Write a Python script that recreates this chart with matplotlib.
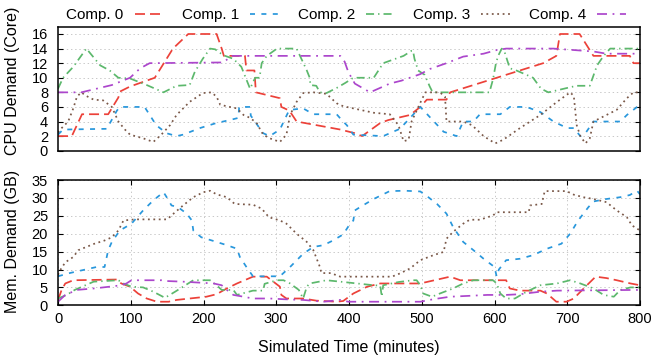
import matplotlib
matplotlib.use('Agg')
import matplotlib.pyplot as plt

plt.rcParams['font.family'] = ['Liberation Sans', 'DejaVu Sans']
plt.rcParams['lines.scale_dashes'] = False

# ---- CPU demand (cores) per component, (minute, value) ----
cpu0_t = [0, 3, 19, 33, 69, 83, 85, 99, 133, 158, 179, 218, 225, 228, 257, 259, 270, 272,
          305, 307, 318, 328, 388, 408, 418, 443, 454, 484, 498, 507, 534, 539, 667, 685,
          690, 717, 736, 786, 791, 800]
cpu0_v = [2, 2, 2, 5, 5, 7.3, 8.1, 8.8, 10, 14, 16, 16, 14, 13, 13, 11, 11, 8,
          7.2, 6, 5.5, 4, 2.9, 2.4, 2, 3.8, 4.2, 4.9, 6, 7, 7, 8, 12, 13,
          16, 16, 13, 13, 12, 12]

cpu1_t = [0, 7, 67, 81, 85, 119, 135, 149, 163, 172, 195, 218, 236, 248, 249, 264, 265,
          282, 291, 305, 317, 319, 337, 351, 383, 390, 397, 406, 447, 470, 498, 514, 530,
          548, 557, 571, 580, 608, 621, 644, 663, 681, 700, 709, 718, 725, 736, 773, 782,
          796, 800]
cpu1_v = [2.2, 2.9, 3, 5.5, 6, 6, 3.5, 2.4, 2, 2.2, 3.1, 3.8, 4.2, 4.5, 6, 6, 4.8,
          2.4, 2, 2.9, 5.4, 5.6, 5.8, 5, 5, 4.2, 3.5, 2.2, 2, 3, 6, 4.3, 2.6,
          2, 4, 4, 5, 5, 6, 6, 5.3, 4, 3.1, 3.1, 2, 2.4, 4, 4, 4.9,
          6, 6.2]

cpu2_t = [0, 7, 21, 39, 58, 71, 83, 99, 122, 145, 163, 181, 188, 199, 209, 216, 227, 241,
          252, 264, 271, 277, 280, 287, 301, 328, 342, 346, 347, 355, 360, 369, 383, 395,
          406, 434, 447, 475, 486, 488, 490, 495, 504, 511, 515, 593, 598, 602, 605, 610,
          614, 621, 630, 644, 653, 664, 674, 704, 713, 731, 741, 750, 759, 800]
cpu2_v = [8.5, 10, 11.5, 14, 11.7, 11, 10, 9.9, 9, 8, 8.9, 9, 10.8, 12.6, 14, 13.9, 13.1, 12.6,
          11.5, 8.5, 10, 10, 12, 13, 14, 14, 11, 10, 9, 8.9, 8, 7.9, 8.6, 9.3,
          10, 10, 12, 13, 13.7, 13.7, 12.6, 11, 10.4, 8.8, 8, 8, 9.8, 12, 13, 14,
          13.5, 11.3, 11, 10.4, 10, 8.5, 8, 8.7, 8.9, 8.9, 11.7, 13, 14, 14]

cpu3_t = [0, 5, 14, 21, 26, 32, 39, 49, 62, 74, 83, 92, 99, 117, 131, 142, 154, 163, 181,
          199, 211, 218, 223, 236, 246, 255, 264, 273, 282, 291, 305, 314, 319, 328, 337,
          351, 369, 383, 392, 406, 434, 456, 468, 475, 482, 486, 500, 505, 525, 532, 534,
          557, 569, 585, 601, 612, 635, 663, 686, 704, 709, 713, 718, 725, 731, 736, 750,
          768, 782, 791, 800]
cpu3_v = [2.5, 3.1, 4, 5.8, 7.4, 8, 7.5, 7, 6.9, 6, 4, 2.9, 2.2, 1.7, 1.2, 2.2, 3.5, 4.9, 6.7,
          7.9, 8, 7.4, 6.3, 6, 5.8, 4.9, 4.5, 3.8, 2.2, 1.7, 1.2, 2.2, 4.9, 6.7, 7.9,
          8, 7.8, 6.5, 6.1, 5.8, 5.2, 5, 3.5, 1.3, 1.5, 4, 7, 8, 8, 7.4, 4,
          4, 3.5, 2, 1, 1.5, 3.1, 4.9, 6.7, 8, 7.5, 3.5, 2, 1, 1.7, 4, 4.7,
          5.6, 7.2, 8, 8]

cpu4_t = [0, 32, 74, 99, 113, 126, 227, 239, 388, 394, 399, 408, 429, 456, 472, 498, 511,
          534, 557, 585, 603, 616, 681, 709, 736, 754, 787, 800]
cpu4_v = [8, 8, 9, 10, 11.3, 12, 12.1, 13, 13, 12.2, 10.8, 9.2, 8, 9.2, 9.6, 10.5, 11.2,
          12, 12.9, 13.3, 13.8, 14, 14, 13.8, 13.6, 13.3, 13.3, 13.3]

# ---- memory demand (GB) per component ----
mem0_t = [0, 5, 10, 21, 81, 87, 99, 110, 122, 136, 152, 163, 181, 204, 218, 232, 246, 268,
          287, 296, 305, 307, 314, 337, 355, 383, 392, 406, 425, 443, 470, 498, 539, 553,
          608, 616, 621, 635, 663, 672, 685, 699, 709, 725, 739, 754, 768, 787, 800]
mem0_v = [1.5, 4.3, 6.1, 7, 7.2, 6.1, 5.2, 3.3, 1.9, 1, 1, 1.5, 1.9, 2.4, 3.1, 4.7, 6.1, 8,
          8, 6.6, 5.2, 2.9, 1.9, 1.9, 1.3, 1, 1.2, 3.3, 5.2, 6.1, 6.1, 6.1, 8, 7,
          7, 7, 4.7, 4.1, 4.1, 3.3, 1, 1, 1.9, 5.2, 8, 7.6, 7, 6.1, 5.6]

mem1_t = [0, 16, 53, 64, 69, 74, 85, 101, 117, 131, 145, 150, 156, 165, 177, 184, 186, 197,
          218, 232, 246, 250, 259, 268, 305, 319, 337, 351, 365, 378, 392, 399, 406, 408,
          415, 434, 456, 477, 498, 509, 521, 534, 543, 557, 571, 585, 600, 603, 606, 616,
          635, 653, 672, 692, 704, 715, 729, 736, 754, 773, 786, 796, 800]
mem1_v = [8.1, 9, 10.7, 10.7, 15.4, 17.7, 20.9, 22.8, 26.5, 29.3, 31.6, 30, 27.9, 27.4, 25.6, 23.7, 20.9, 19,
          17.7, 16.8, 15.8, 13.5, 10.7, 8.1, 8.1, 10.7, 14.4, 16.3, 16.8, 18.1, 19.8, 22, 23.7, 26.5,
          27.4, 29.7, 31.9, 32, 31.8, 30.2, 28.3, 25.6, 21.9, 17.7, 15.4, 13, 10.7, 8, 10, 12.6,
          13, 14, 15.8, 17.2, 20, 23.7, 27.4, 29, 29.7, 30.2, 30.8, 32, 31]

mem2_t = [0, 12, 23, 49, 83, 90, 101, 117, 131, 147, 161, 172, 186, 209, 218, 225, 241, 246,
          268, 282, 284, 301, 310, 319, 331, 337, 342, 346, 369, 388, 411, 434, 443, 445,
          447, 468, 488, 493, 498, 502, 514, 525, 543, 557, 571, 598, 603, 608, 616, 628,
          644, 663, 686, 704, 718, 736, 750, 764, 773, 787, 800]
mem2_v = [1.9, 2.9, 4.3, 6.6, 7, 6.1, 5.2, 5, 3.8, 2.1, 3.8, 5.2, 7, 7, 5.6, 4.3, 4.3, 2.9,
          4.1, 4.1, 6, 7, 7, 6.1, 4.3, 1.9, 5.2, 6.1, 7, 6.6, 6.1, 5.6, 5.5, 2.4,
          5.6, 6.5, 7, 7, 5.6, 3.3, 2.4, 3.3, 4.7, 6.1, 7, 7, 6.1, 3.3, 1.9, 1.9,
          3.8, 5.6, 6.1, 7, 6.1, 4.7, 2.9, 2.4, 4.3, 5, 5]

mem3_t = [0, 3, 10, 21, 28, 39, 50, 64, 74, 83, 90, 106, 150, 161, 172, 186, 200, 209, 218,
          232, 243, 268, 280, 290, 305, 314, 328, 342, 351, 360, 362, 375, 388, 459, 470,
          484, 498, 516, 530, 534, 543, 557, 566, 580, 598, 603, 647, 649, 665, 669, 699,
          709, 722, 736, 754, 768, 782, 789, 800]
mem3_v = [8.5, 9.8, 12, 13.5, 15.4, 16.3, 17.2, 18.1, 19, 20.9, 23.7, 24, 24, 26, 27.9, 30.2, 31.6, 32, 31,
          30.2, 28.3, 28.1, 27, 24.6, 23.7, 22.8, 20, 17.7, 15.4, 10.7, 9, 9, 8, 8, 8.9,
          10.3, 12.6, 14, 14.9, 18.6, 20.5, 22.8, 23.9, 23.9, 25.1, 26, 26, 27.9, 28.3, 31.9, 31.9,
          30.9, 30.2, 29.7, 28.8, 26.5, 24.6, 22.3, 20.9]

mem4_t = [0, 10, 26, 49, 71, 87, 94, 101, 142, 147, 172, 214, 225, 232, 241, 255, 268, 291,
          310, 337, 365, 388, 399, 498, 516, 539, 571, 590, 616, 635, 663, 686, 800]
mem4_v = [1, 2.9, 4.3, 4.7, 5.2, 5.6, 6.1, 7, 7, 6.8, 6.6, 6.1, 5.6, 4.3, 2.9, 2.4, 1.9, 1.9,
          1.7, 1.5, 1, 1.5, 1, 1, 1.7, 2.4, 2.7, 2.9, 2.9, 3.1, 3.8, 4.1, 4.3]

labels = ['Comp. 0', 'Comp. 1', 'Comp. 2', 'Comp. 3', 'Comp. 4']
colors = ['#ec4139', '#2897dc', '#5cb86c', '#7a5848', '#ac46cc']
dashes = [(7.2, 3.6), (3.6, 4.6), (5.8, 2.9, 1.0, 2.9), (1.3, 2.6), (7.2, 4.0, 1.3, 4.0)]

cpu = [(cpu0_t, cpu0_v), (cpu1_t, cpu1_v), (cpu2_t, cpu2_v), (cpu3_t, cpu3_v), (cpu4_t, cpu4_v)]
mem = [(mem0_t, mem0_v), (mem1_t, mem1_v), (mem2_t, mem2_v), (mem3_t, mem3_v), (mem4_t, mem4_v)]

fig = plt.figure(figsize=(6.52, 3.6), dpi=100)
ax1 = fig.add_axes([0.08896, 0.58139, 0.89264, 0.34444])
ax2 = fig.add_axes([0.08896, 0.15194, 0.89264, 0.34806])

handles = []
for i in range(5):
    ln, = ax1.plot(cpu[i][0], cpu[i][1], color=colors[i], lw=1.25, dashes=dashes[i])
    ax2.plot(mem[i][0], mem[i][1], color=colors[i], lw=1.25, dashes=dashes[i])
    handles.append(ln)

for ax in (ax1, ax2):
    ax.set_xlim(0, 800)
    for s in ax.spines.values():
        s.set_linewidth(1.1)
    ax.tick_params(axis='y', direction='in', left=True, right=True, length=3.5,
                   width=0.8, labelsize=10.5, pad=7.2)

ax1.set_ylim(0, 17)
ax1.set_yticks(range(0, 17, 2))
ax1.tick_params(axis='x', bottom=False, top=False, labelbottom=False)
ax1.grid(axis='y', color='#c8c8c8', lw=0.7, dashes=(1, 2))
ax1.set_ylabel('CPU Demand (Core)', fontsize=11.5, va='center')
ax1.yaxis.set_label_coords(-0.079, 0.566)

ax2.set_ylim(0, 35)
ax2.set_yticks(range(0, 36, 5))
ax2.set_xticks(range(0, 801, 100))
ax2.tick_params(axis='x', direction='in', bottom=True, top=True, length=3.5,
                width=0.8, labelsize=10.5, pad=4.5)
ax2.grid(True, color='#c8c8c8', lw=0.7, dashes=(1, 2))
ax2.set_ylabel('Mem. Demand (GB)', fontsize=11.5, va='center')
ax2.yaxis.set_label_coords(-0.079, 0.513)
ax2.set_xlabel('Simulated Time (minutes)', fontsize=11.5)
ax2.xaxis.set_label_coords(0.5, -0.37)
ax2.xaxis.label.set_va('baseline')

fig.legend(handles, labels, loc='center', bbox_to_anchor=(0.531, 0.958), ncol=5,
           frameon=False, markerfirst=False, fontsize=11, handlelength=1.9,
           handletextpad=0.72, columnspacing=1.2, borderpad=0, borderaxespad=0)

fig.savefig('out.png', dpi=100)
